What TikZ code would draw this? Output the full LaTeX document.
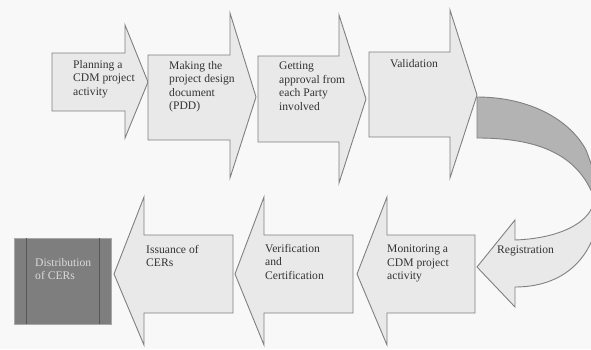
\documentclass[tikz,border=0pt]{standalone}
\usepackage{fontspec}
\setmainfont{Liberation Serif}
\definecolor{paper}{HTML}{F8F8F8}
\definecolor{arrowfill}{HTML}{E9E9E9}
\definecolor{edgegray}{HTML}{808080}
\definecolor{bandgray}{HTML}{B3B3B3}
\definecolor{labelgray}{HTML}{333333}
\definecolor{boxfill}{HTML}{7E7E7E}
\definecolor{boxedge}{HTML}{A8A8A8}
\definecolor{boxline}{HTML}{555555}
\definecolor{boxtext}{HTML}{DADADA}

% curved "Registration" arrow outline, reused for fill, band and stroke
\newcommand\regshape[1]{%
  \path[#1] (477,97) .. controls (530,97) and (570,120) .. (586,150)
    .. controls (592,165) and (598,185) .. (599,203)
    .. controls (599,250) and (570,287) .. (515,287)
    -- (515,307) -- (477,267) -- (515,220) -- (515,240)
    .. controls (570,238) and (598,215) .. (593,195)
    .. controls (575,150) and (530,138) .. (477,138) -- cycle;}

\begin{document}
\begin{tikzpicture}[x=1pt,y=-1pt,
  blockarrow/.style={draw=edgegray, fill=arrowfill, line width=0.9pt, line join=miter},
  steplabel/.style={anchor=north west, inner sep=0pt, align=left, text=labelgray,
    font=\fontsize{11.6}{13.5}\selectfont},
]
\useasboundingbox (0,0) rectangle (591,349);
\fill[paper] (0,0) rectangle (591,349);

% top row: right-pointing block arrows
\path[blockarrow] (52,53) -- (125,53) -- (125,25) -- (148,82) -- (125,138) -- (125,111) -- (52,111) -- cycle;
\path[blockarrow] (148,55) -- (230,55) -- (230,13) -- (256,97) -- (230,178) -- (230,140) -- (148,140) -- cycle;
\path[blockarrow] (258,56) -- (339,56) -- (339,15) -- (366,99) -- (339,183) -- (339,142) -- (258,142) -- cycle;
\path[blockarrow] (369,52) -- (450,52) -- (450,10) -- (477,95) -- (450,178) -- (450,137) -- (369,137) -- cycle;

% curved arrow turning back to the bottom row
\begin{scope}
  \clip (0,0) rectangle (591,349);
  \regshape{fill=arrowfill}
  \begin{scope}
    \clip (470,0) rectangle (600,189);
    \regshape{fill=bandgray}
  \end{scope}
  \regshape{draw=edgegray, line width=0.9pt, line join=miter}
\end{scope}

% bottom row: left-pointing block arrows
\path[blockarrow] (475,235) -- (387,235) -- (387,197) -- (357,274) -- (387,345) -- (387,313) -- (475,313) -- cycle;
\path[blockarrow] (353,235) -- (264,235) -- (264,197) -- (235,274) -- (264,345) -- (264,313) -- (353,313) -- cycle;
\path[blockarrow] (233,235) -- (144,235) -- (144,197) -- (114,274) -- (144,345) -- (144,313) -- (233,313) -- cycle;

% final block
\draw[boxedge, fill=boxfill, line width=0.8pt] (14,238) rectangle (111,324);
\draw[boxline, line width=0.9pt] (26,238) -- (26,324) (99,238) -- (99,324);

% labels
\node[steplabel] (plan) at (73,60) {Planning a\\CDM project\\activity};
\node[steplabel] (pdd) at (169,61) {Making the\\project design\\document\\(PDD)};
\node[steplabel] (approval) at (279,62) {Getting\\approval from\\each Party\\involved};
\node[steplabel] (valid) at (390,59) {Validation};
\node[steplabel] (reg) at (497,246) {Registration};
\node[steplabel] (monitor) at (387,245) {Monitoring a\\CDM project\\activity};
\node[steplabel] (verify) at (265,244) {Verification\\and\\Certification};
\node[steplabel] (issue) at (146,245) {Issuance of\\CERs};
\node[steplabel, text=boxtext] (distrib) at (35,258) {Distribution\\of CERs};
\end{tikzpicture}
\end{document}
